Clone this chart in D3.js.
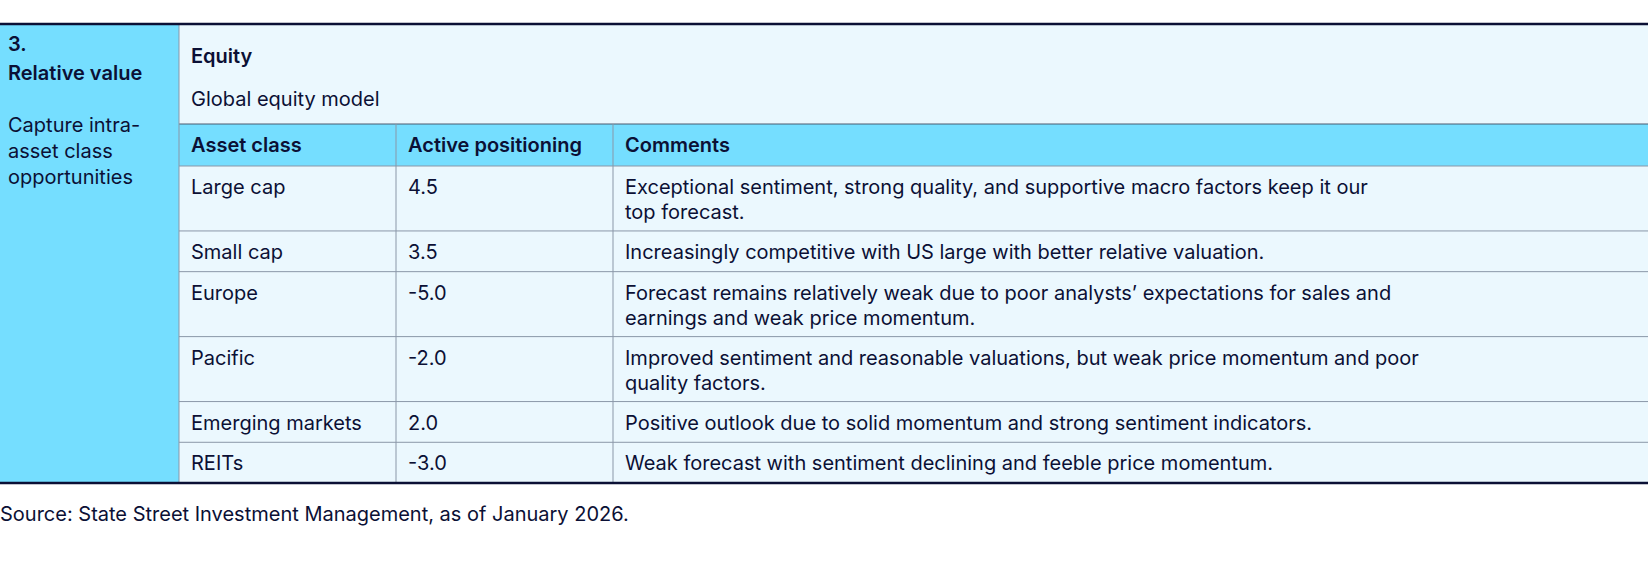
<!DOCTYPE html>
<html><head><meta charset="utf-8">
<script src="https://cdn.jsdelivr.net/npm/d3@7"></script>
<style>body{margin:0;background:#fff}svg{display:block;font-family:Inter,"Noto Sans",sans-serif}</style>
</head><body><svg id="tbl" width="1648" height="574"></svg>
<script>
const assetClasses = ["Large cap", "Small cap", "Europe", "Pacific", "Emerging markets", "REITs"];
const positioning = [4.5, 3.5, -5.0, -2.0, 2.0, -3.0];
const comments = [
  ["Exceptional sentiment, strong quality, and supportive macro factors keep it our", "top forecast."],
  ["Increasingly competitive with US large with better relative valuation."],
  ["Forecast remains relatively weak due to poor analysts\u2019 expectations for sales and", "earnings and weak price momentum."],
  ["Improved sentiment and reasonable valuations, but weak price momentum and poor", "quality factors."],
  ["Positive outlook due to solid momentum and strong sentiment indicators."],
  ["Weak forecast with sentiment declining and feeble price momentum."]
];
const headers = ["Asset class", "Active positioning", "Comments"];

const navy = "#0b1035", cyan = "#75deff", pale = "#ebf8fe", grid = "#8a97a8";
const svg = d3.select("#tbl");
const tblTop = 24, tblBot = 483, leftW = 179, right = 1648;
const colX = [179, 396, 613];
const headTop = 124, headBot = 166, lineH = 25;

svg.append("rect").attr("x", 0).attr("y", tblTop).attr("width", leftW).attr("height", tblBot - tblTop).attr("fill", cyan);
svg.append("rect").attr("x", leftW).attr("y", tblTop).attr("width", right - leftW).attr("height", tblBot - tblTop).attr("fill", pale);
svg.append("rect").attr("x", leftW).attr("y", headTop).attr("width", right - leftW).attr("height", headBot - headTop).attr("fill", cyan);

// row heights from line count
let y = headBot;
const rows = assetClasses.map((a, i) => {
  const h = comments[i].length > 1 ? 67 : 42;
  const r = {a, v: positioning[i], c: comments[i], y0: y, h};
  y += h; return r;
});
const scaleY = d3.scaleLinear().domain([headBot, y]).range([headBot, tblBot]);

function txt(x, yy, s, bold) {
  svg.append("text").attr("x", x).attr("y", yy).attr("fill", navy)
    .attr("font-size", 20).attr("font-weight", bold ? 600 : 400).text(s);
}

// left column
txt(8, 51, "3.", true);
txt(8, 80, "Relative value", true);
["Capture intra-", "asset class", "opportunities"].forEach((s, i) => txt(8, 132 + i * 26, s));
txt(191, 63, "Equity", true);
txt(191, 106, "Global equity model");
headers.forEach((h, i) => txt(colX[i] + 12, 152, h, true));

rows.forEach(r => {
  const y0 = scaleY(r.y0), y1 = scaleY(r.y0 + r.h);
  txt(colX[0] + 12, y0 + 28, r.a);
  txt(colX[1] + 12, y0 + 28, r.v < 0 ? "-" + Math.abs(r.v).toFixed(1) : r.v.toFixed(1));
  r.c.forEach((s, j) => txt(colX[2] + 12, y0 + 28 + j * lineH, s));
  if (y1 < tblBot - 1)
    svg.append("line").attr("x1", leftW).attr("x2", right).attr("y1", y1).attr("y2", y1).attr("stroke", grid);
});

// grid lines
svg.append("line").attr("x1", leftW).attr("x2", right).attr("y1", headTop).attr("y2", headTop).attr("stroke", "#4a5a70");
svg.append("line").attr("x1", leftW).attr("x2", right).attr("y1", headBot).attr("y2", headBot).attr("stroke", grid);
svg.append("line").attr("x1", leftW).attr("x2", leftW).attr("y1", tblTop).attr("y2", tblBot).attr("stroke", grid);
colX.slice(1).forEach(x => svg.append("line").attr("x1", x).attr("x2", x).attr("y1", headTop).attr("y2", tblBot).attr("stroke", grid));
svg.append("line").attr("x1", 0).attr("x2", right).attr("y1", tblTop).attr("y2", tblTop).attr("stroke", navy).attr("stroke-width", 2.5);
svg.append("line").attr("x1", 0).attr("x2", right).attr("y1", tblBot).attr("y2", tblBot).attr("stroke", navy).attr("stroke-width", 2.5);

txt(0, 521, "Source: State Street Investment Management, as of January 2026.");
</script></body></html>
